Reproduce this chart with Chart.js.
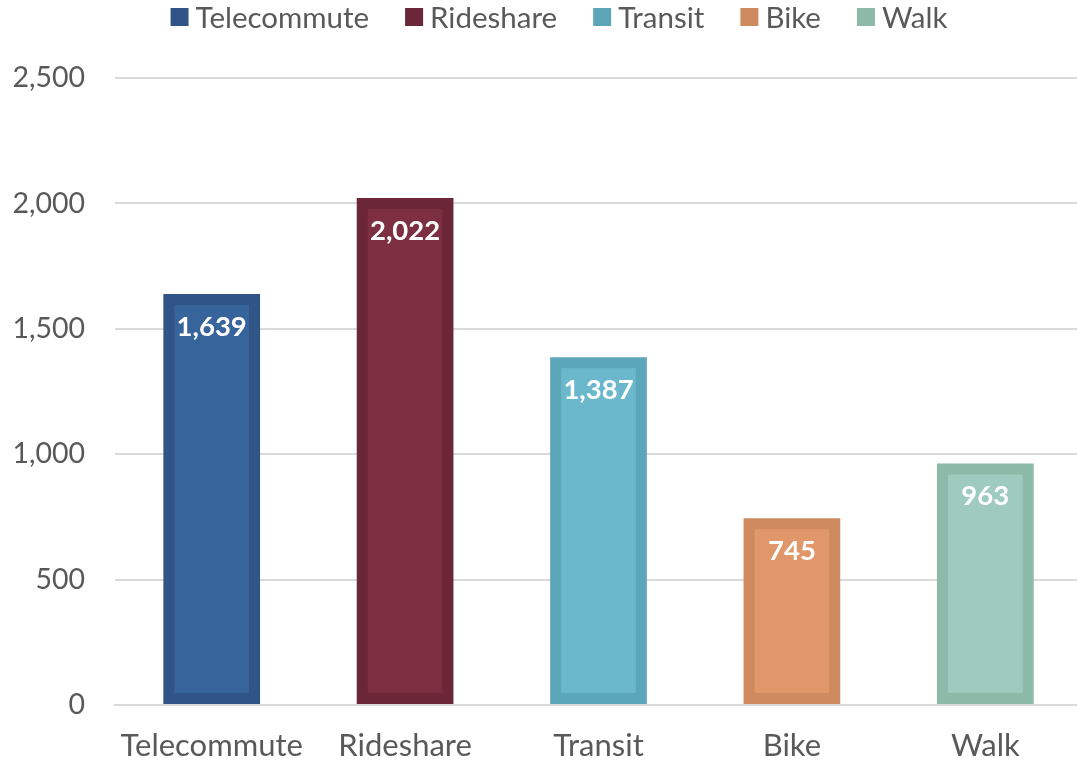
<!DOCTYPE html>
<html>
<head>
<meta charset="utf-8">
<script src="https://cdn.jsdelivr.net/npm/chart.js@4/dist/chart.umd.min.js"></script>
<style>
  html, body { margin: 0; padding: 0; background: #fff; overflow: hidden; }
  .chart-box { width: 1082px; height: 762px; }
</style>
</head>
<body>
<div class="chart-box"><canvas id="chart"></canvas></div>
<script>
const CATEGORIES = ['Telecommute', 'Rideshare', 'Transit', 'Bike', 'Walk'];
const VALUES = [1639, 2022, 1387, 745, 963];
const FILL_COLORS = ['#37649A', '#7B2F40', '#6BB8CC', '#E09769', '#9ECBBE'];
const EDGE_COLORS = ['#2F5485', '#6B2737', '#5CA6B9', '#CD8A5F', '#8DB9A9'];
const Y_TICKS = [0, 500, 1000, 1500, 2000, 2500];

const FONT = 'Lato, "Open Sans", sans-serif';
const TEXT_COLOR = '#595959';
const EDGE = 11;
const fmt = v => v.toLocaleString('en-US');

// lighter inner panel of each bar + white value label near its top
const barFaces = {
    id: 'barFaces',
    afterDatasetsDraw(chart) {
        const ctx = chart.ctx;
        const meta = chart.getDatasetMeta(0);
        ctx.save();
        meta.data.forEach((bar, i) => {
            const { x, y, base, width } = bar.getProps(['x', 'y', 'base', 'width'], true);
            ctx.fillStyle = FILL_COLORS[i];
            ctx.fillRect(x - width / 2 + EDGE, y + EDGE, width - EDGE * 2, base - y - EDGE * 2);
        });
        ctx.fillStyle = '#ffffff';
        ctx.font = 'bold 27.5px ' + FONT;
        ctx.textAlign = 'center';
        ctx.textBaseline = 'middle';
        meta.data.forEach((bar, i) => {
            ctx.fillText(fmt(VALUES[i]), bar.x, bar.y + 33);
        });
        ctx.restore();
    }
};

// legend row along the top, square swatch + label, tighter than the built-in one
const topLegend = {
    id: 'topLegend',
    afterDraw(chart) {
        const ctx = chart.ctx;
        const box = 18, gap = 7, spacing = 36, midY = 17;
        ctx.save();
        ctx.font = '29.5px ' + FONT;
        ctx.textBaseline = 'middle';
        const widths = CATEGORIES.map(c => ctx.measureText(c).width);
        const total = widths.reduce((a, w) => a + box + gap + w, 0) + spacing * (CATEGORIES.length - 1);
        let x = chart.width / 2 + 18 - total / 2;
        CATEGORIES.forEach((c, i) => {
            ctx.fillStyle = EDGE_COLORS[i];
            ctx.fillRect(x, midY - box / 2, box, box);
            x += box + gap;
            ctx.fillStyle = TEXT_COLOR;
            ctx.fillText(c, x, midY + 1);
            x += widths[i] + spacing;
        });
        ctx.restore();
    }
};

new Chart(document.getElementById('chart'), {
    type: 'bar',
    data: {
        labels: CATEGORIES,
        datasets: [{
            data: VALUES,
            backgroundColor: EDGE_COLORS,
            borderWidth: 0,
            inflateAmount: 0,
            categoryPercentage: 0.5,
            barPercentage: 1
        }]
    },
    options: {
        responsive: true,
        maintainAspectRatio: false,
        animation: false,
        layout: { padding: { top: 78, left: 0, right: 0, bottom: 0 } },
        plugins: {
            tooltip: { enabled: false },
            legend: { display: false }
        },
        scales: {
            x: {
                grid: { display: false, drawTicks: false },
                border: { color: '#d9d9d9', width: 2 },
                ticks: { font: { family: FONT, size: 31 }, color: TEXT_COLOR, padding: 22 },
                afterFit: axis => { axis.height = 57; }
            },
            y: {
                min: 0,
                max: 2500,
                afterBuildTicks: axis => { axis.ticks = Y_TICKS.map(v => ({ value: v })); },
                grid: { color: '#d9d9d9', lineWidth: 2, drawTicks: false },
                border: { display: false },
                ticks: {
                    font: { family: FONT, size: 28.5 },
                    color: TEXT_COLOR,
                    padding: 30,
                    callback: v => fmt(v)
                },
                afterFit: axis => { axis.width = 115; }
            }
        }
    },
    plugins: [barFaces, topLegend]
});
</script>
</body>
</html>
